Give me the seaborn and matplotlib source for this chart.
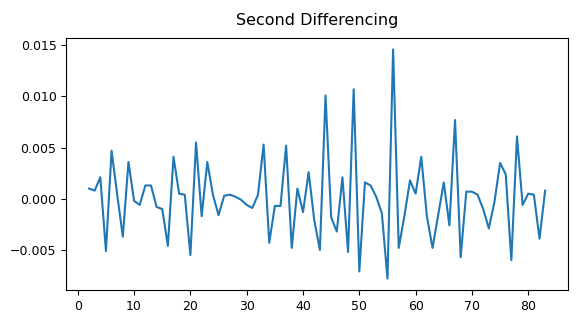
"""
Second differencing of the series, line chart.
"""

import matplotlib
matplotlib.use("Agg")
import matplotlib.pyplot as plt
import seaborn as sns
import pandas as pd

# Passo (índice) e valor da segunda diferença
passos = list(range(2, 84))
segunda_dif = [
    0.0010, 0.0008, 0.0021, -0.0051, 0.0047, 0.0004, -0.0037, 0.0036, -0.0002,  # 2-10
    -0.0006, 0.0013, 0.0013, -0.0008, -0.0010, -0.0046, 0.0041, 0.0005, 0.0004,  # 11-19
    -0.0055, 0.0055, -0.0017, 0.0036, 0.0004, -0.0016, 0.0003, 0.0004, 0.0002,   # 20-28
    -0.0001, -0.0006, -0.0009, 0.0004, 0.0053, -0.0043, -0.0007, -0.0007,         # 29-36
    0.0052, -0.0048, 0.0010, -0.0013, 0.0026, -0.0021, -0.0050, 0.0101,          # 37-44
    -0.0018, -0.0032, 0.0021, -0.0052, 0.0107, -0.0071, 0.0016, 0.0013,          # 45-52
    0.0002, -0.0014, -0.0078, 0.0146, -0.0048, -0.0017, 0.0018, 0.0005,          # 53-60
    0.0041, -0.0017, -0.0048, -0.0016, 0.0016, -0.0026, 0.0077, -0.0057,         # 61-68
    0.0007, 0.0007, 0.0004, -0.0010, -0.0029, -0.0003, 0.0035, 0.0024,           # 69-76
    -0.0060, 0.0061, -0.0006, 0.0005, 0.0004, -0.0039, 0.0008,                    # 77-83
]

df = pd.DataFrame({"passo": passos, "valor": segunda_dif})

fig = plt.figure(figsize=(5.76, 3.3), dpi=100)
ax = fig.add_axes([0.115, 0.121, 0.871, 0.764])

sns.lineplot(data=df, x="passo", y="valor", ax=ax, color="#1f77b4", linewidth=1.5)

ax.set_xticks(range(0, 81, 10))
ax.set_yticks([-0.005, 0.0, 0.005, 0.010, 0.015])
ax.tick_params(labelsize=9)
ax.set_xlabel("")
ax.set_ylabel("")
ax.set_title("Second Differencing", fontsize=11.5, pad=9)

plt.savefig("out.png", dpi=100)
plt.close()
